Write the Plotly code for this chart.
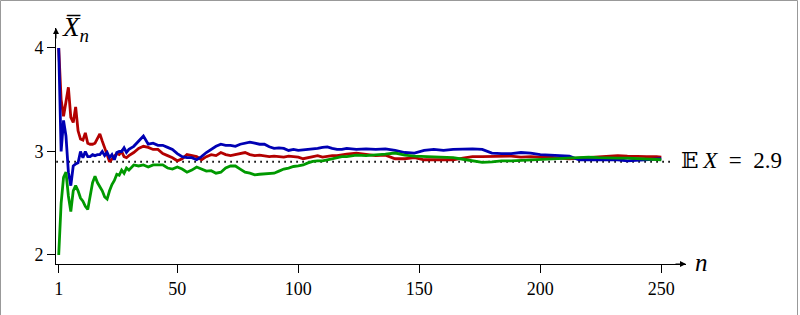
import plotly.graph_objects as go

# sample sizes at which the running means were read
n_vals = list(range(1, 31)) + list(range(32, 121, 2)) + list(range(124, 249, 4)) + [250]

blue_mean = [4.00, 3.00, 3.30, 3.15, 2.80, 2.67, 2.86, 2.88, 2.89, 3.00,
             2.94, 3.00, 2.95, 2.95, 2.97, 2.96, 2.97, 2.97, 3.00, 2.96,
             2.99, 2.94, 2.97, 2.92, 2.99, 3.00, 3.00, 3.035, 2.99, 3.02,
             3.05, 3.10, 3.15, 3.07, 3.08, 3.06, 3.06, 3.04, 3.02, 2.98,
             2.95, 2.94, 2.94, 2.92, 2.95, 2.99, 3.02, 3.05, 3.07, 3.06,
             3.06, 3.05, 3.07, 3.08, 3.09, 3.08, 3.07, 3.07, 3.045, 3.03,
             3.035, 3.03, 3.01, 3.02, 3.01, 3.015, 3.02, 3.02, 3.03, 3.04,
             3.045, 3.03, 3.02, 3.02, 3.03,
             3.02, 3.025, 3.02, 3.025, 3.01, 2.99, 2.985, 3.01, 3.02, 3.01,
             3.02, 3.025, 3.025, 3.02, 2.985, 2.98, 2.98, 2.99, 2.985, 2.97,
             2.965, 2.965, 2.955, 2.92, 2.92, 2.915, 2.915, 2.92, 2.91, 2.915,
             2.925, 2.93, 2.93]

red_mean = [4.00, 3.50, 3.34, 3.50, 3.62, 3.33, 3.28, 3.43, 3.20, 3.12,
            3.11, 3.18, 3.08, 3.07, 3.07, 3.08, 3.13, 3.17, 3.10, 3.04,
            2.97, 2.90, 2.93, 2.96, 2.98, 2.97, 3.00, 2.95, 2.94, 2.96,
            2.99, 3.03, 3.05, 3.04, 3.02, 3.02, 2.98, 2.96, 2.94, 2.91,
            2.93, 2.97, 2.96, 2.95, 2.92, 2.95, 2.97, 2.96, 2.99, 2.97,
            2.96, 2.97, 2.98, 2.99, 2.97, 2.96, 2.965, 2.955, 2.95, 2.955,
            2.95, 2.945, 2.955, 2.95, 2.945, 2.93, 2.94, 2.95, 2.96, 2.945,
            2.955, 2.96, 2.96, 2.97, 2.975,
            2.985, 2.975, 2.96, 2.965, 2.93, 2.93, 2.94, 2.92, 2.92, 2.925,
            2.92, 2.935, 2.95, 2.95, 2.95, 2.955, 2.955, 2.945, 2.95, 2.945,
            2.945, 2.935, 2.93, 2.935, 2.94, 2.945, 2.955, 2.96, 2.955, 2.95,
            2.95, 2.95, 2.945]

green_mean = [2.00, 2.50, 2.75, 2.80, 2.57, 2.42, 2.62, 2.67, 2.62, 2.55,
              2.52, 2.47, 2.44, 2.58, 2.70, 2.76, 2.70, 2.66, 2.62, 2.56,
              2.54, 2.62, 2.68, 2.72, 2.78, 2.77, 2.82, 2.79, 2.84, 2.82,
              2.87, 2.86, 2.87, 2.85, 2.87, 2.87, 2.87, 2.84, 2.83, 2.85,
              2.83, 2.80, 2.82, 2.85, 2.83, 2.81, 2.815, 2.79, 2.80, 2.84,
              2.86, 2.86, 2.83, 2.80, 2.79, 2.775, 2.78, 2.785, 2.785, 2.79,
              2.81, 2.83, 2.84, 2.855, 2.86, 2.87, 2.89, 2.905, 2.91, 2.91,
              2.92, 2.93, 2.94, 2.95, 2.95,
              2.965, 2.96, 2.965, 2.975, 2.985, 2.965, 2.955, 2.95, 2.945, 2.945,
              2.94, 2.925, 2.91, 2.895, 2.90, 2.91, 2.91, 2.915, 2.92, 2.92,
              2.925, 2.935, 2.94, 2.94, 2.945, 2.94, 2.935, 2.935, 2.935, 2.93,
              2.93, 2.925, 2.92]

expected_value = 2.9
x_ticks = [1, 50, 100, 150, 200, 250]
y_ticks = [2, 3, 4]

X_MIN, X_MAX = -0.12, 260.2
Y_MIN, Y_MAX = 1.913, 4.193
FONT = "Liberation Serif, DejaVu Serif, serif"

fig = go.Figure()

fig.add_trace(go.Scatter(x=[0, 255], y=[expected_value, expected_value], mode="lines",
                         line=dict(color="black", width=2, dash="1.6px,4.4px"),
                         hoverinfo="skip", showlegend=False))
for vals, col in [(red_mean, "#b30000"), (blue_mean, "#0000b3"), (green_mean, "#009900")]:
    fig.add_trace(go.Scatter(x=n_vals, y=vals, mode="lines",
                             line=dict(color=col, width=2.8),
                             showlegend=False, cliponaxis=False))

fig.update_layout(
    width=800, height=315,
    margin=dict(l=56, r=114, t=28, b=51),
    paper_bgcolor="white", plot_bgcolor="white",
    font=dict(family=FONT, size=18, color="black"),
    xaxis=dict(range=[X_MIN, X_MAX], tickvals=x_ticks, ticktext=[str(v) for v in x_ticks],
               showgrid=False, zeroline=False, showline=True, linecolor="black", linewidth=1,
               ticks="outside", ticklen=8, tickwidth=1, tickcolor="black",
               tickfont=dict(family=FONT, size=18)),
    yaxis=dict(range=[Y_MIN, Y_MAX], tickvals=y_ticks, ticktext=[str(v) for v in y_ticks],
               showgrid=False, zeroline=False, showline=True, linecolor="black", linewidth=1,
               ticks="outside", ticklen=8, tickwidth=1, tickcolor="black",
               tickfont=dict(family=FONT, size=18)),
)

# axis arrows
fig.add_annotation(x=X_MAX, y=Y_MIN, xref="x", yref="y", ax=-12, ay=0, text="",
                   showarrow=True, arrowhead=2, arrowsize=1.2, arrowwidth=1, arrowcolor="black")
fig.add_annotation(x=X_MIN, y=Y_MAX, xref="x", yref="y", ax=0, ay=12, text="",
                   showarrow=True, arrowhead=2, arrowsize=1.2, arrowwidth=1, arrowcolor="black")

# axis labels
fig.add_annotation(x=X_MAX, y=Y_MIN, xref="x", yref="y", text="<i>n</i>", showarrow=False,
                   xanchor="left", yanchor="middle", xshift=7, yshift=2,
                   font=dict(family=FONT, size=25))
fig.add_annotation(x=X_MIN, y=Y_MAX, xref="x", yref="y", text="<i>X\u0305</i><sub><i>n</i></sub>",
                   showarrow=False, xanchor="left", yanchor="middle", xshift=4, yshift=-1,
                   font=dict(family=FONT, size=27))
fig.add_annotation(x=256, y=expected_value, xref="x", yref="y",
                   text="\U0001D53C\u2009<i>X</i>\u2002=\u20022.9", showarrow=False,
                   xanchor="left", yanchor="middle", xshift=3, yshift=1,
                   font=dict(family=FONT, size=23))

# thin grey frame around the picture
fig.add_shape(type="rect", xref="paper", yref="paper",
              x0=(0.5 - 56) / 630, x1=(797.5 - 56) / 630,
              y0=(264 - 330) / 236, y1=(264 - 0.5) / 236,
              line=dict(color="#999999", width=1), fillcolor="rgba(0,0,0,0)")

fig.write_html("out.html")
